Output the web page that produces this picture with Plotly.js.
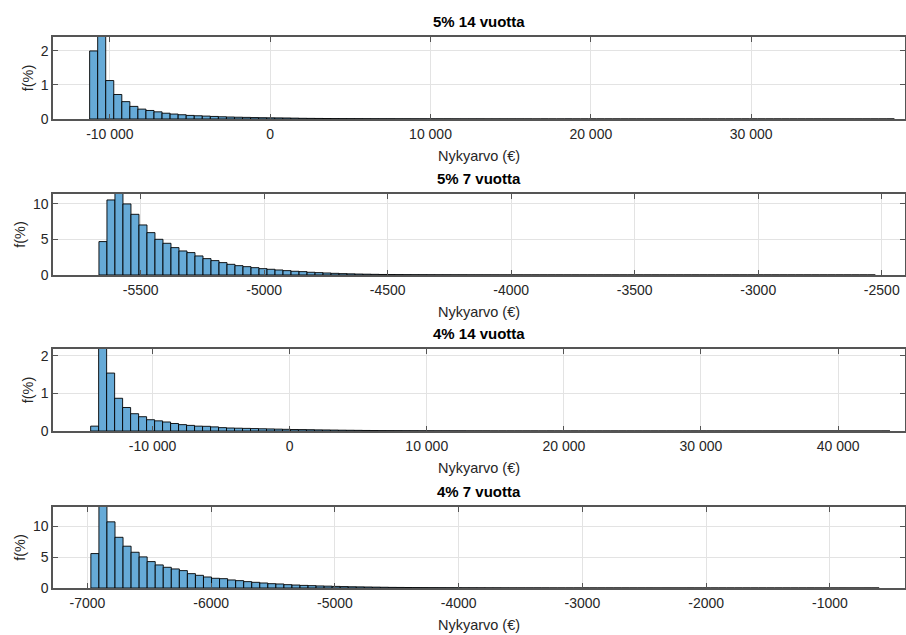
<!DOCTYPE html>
<html><head><meta charset="utf-8">
<script src="https://cdn.plot.ly/plotly-3.0.1.min.js"></script>
<style>html,body{margin:0;padding:0;background:#fff}#chart{width:906px;height:635px}</style>
</head><body><div id="chart"></div>
<script>
// ---------- data ----------
const panelTitles = ["5% 14 vuotta", "5% 7 vuotta", "4% 14 vuotta", "4% 7 vuotta"];
const xLabel = "Nykyarvo (€)";
const yLabel = "f(%)";

// 5% 14 vuotta
const binStart1 = -11265, binWidth1 = 502;
const freq1 = [2.0, 2.6, 1.13, 0.72, 0.51, 0.37, 0.29, 0.25, 0.21, 0.17,
  0.145, 0.125, 0.105, 0.095, 0.085, 0.075, 0.065, 0.058, 0.052, 0.047,
  0.042, 0.038, 0.035, 0.032, 0.03, 0.025, 0.02, 0.018, 0.016, 0.014,
  0.012, 0.011, 0.01, 0.009, 0.008, 0.007, 0.006, 0.006, 0.005, 0.005,
  0.004, 0.004, 0.003, 0.003, 0.003, 0.002, 0.002, 0.002, 0.002, 0.001,
  0.001, 0.001, 0.001, 0.001, 0.001, 0, 0.001, 0, 0, 0.001,
  0, 0, 0, 0, 0, 0, 0, 0, 0, 0,
  0, 0, 0, 0, 0, 0, 0, 0, 0, 0,
  0, 0, 0, 0, 0, 0, 0, 0, 0, 0,
  0, 0, 0, 0, 0, 0, 0, 0, 0, 0.001];

// 5% 7 vuotta
const binStart2 = -5669, binWidth2 = 32.4;
const freq2 = [4.7, 10.56, 11.8, 10.0, 8.54, 7.04, 5.96, 5.02, 4.46, 3.85,
  3.38, 3.15, 2.68, 2.3, 2.02, 1.74, 1.5, 1.31, 1.17, 1.03,
  0.89, 0.8, 0.7, 0.61, 0.52, 0.47, 0.38, 0.33, 0.28, 0.23,
  0.19, 0.16, 0.13, 0.11, 0.09, 0.07, 0.06, 0.05, 0.04, 0.035,
  0.03, 0.025, 0.02, 0.02, 0.015, 0.015, 0.01, 0.01, 0.008, 0.006,
  0.005, 0.004, 0.004, 0.003, 0.003, 0.002, 0.002, 0.002, 0.001, 0.001,
  0.001, 0.001, 0, 0.001, 0, 0, 0.001, 0, 0, 0,
  0, 0, 0, 0, 0, 0, 0, 0, 0, 0,
  0, 0, 0, 0, 0, 0, 0, 0.001, 0.001, 0.001,
  0.001, 0.001, 0.001, 0.001, 0, 0, 0.001];

// 4% 14 vuotta
const binStart3 = -14516, binWidth3 = 583;
const freq3 = [0.13, 2.5, 1.54, 0.87, 0.625, 0.46, 0.38, 0.30, 0.27, 0.24,
  0.20, 0.17, 0.15, 0.13, 0.125, 0.11, 0.09, 0.08, 0.075, 0.07,
  0.065, 0.06, 0.055, 0.05, 0.045, 0.04, 0.038, 0.035, 0.03, 0.028,
  0.025, 0.022, 0.02, 0.018, 0.015, 0.012, 0.01, 0.009, 0.008, 0.007,
  0.006, 0.005, 0.005, 0.004, 0.004, 0.003, 0.003, 0.002, 0.002, 0.002,
  0.001, 0.001, 0.001, 0.001, 0.001, 0.001, 0, 0.001, 0, 0,
  0.001, 0, 0, 0, 0, 0, 0, 0, 0, 0,
  0, 0, 0, 0, 0, 0, 0, 0, 0, 0,
  0, 0, 0, 0, 0, 0, 0, 0, 0, 0,
  0, 0, 0, 0, 0, 0, 0, 0, 0, 0.001];

// 4% 7 vuotta
const binStart4 = -6972, binWidth4 = 65;
const freq4 = [5.57, 13.5, 10.7, 8.2, 6.76, 5.78, 5.03, 4.27, 3.73, 3.35,
  3.08, 2.81, 2.32, 2.05, 1.78, 1.57, 1.51, 1.3, 1.19, 1.03,
  0.92, 0.81, 0.70, 0.65, 0.54, 0.48, 0.42, 0.38, 0.33, 0.30,
  0.26, 0.23, 0.20, 0.18, 0.16, 0.14, 0.12, 0.10, 0.09, 0.08,
  0.07, 0.06, 0.05, 0.045, 0.04, 0.035, 0.03, 0.025, 0.02, 0.018,
  0.015, 0.012, 0.01, 0.009, 0.008, 0.007, 0.006, 0.005, 0.004, 0.004,
  0.003, 0.003, 0.002, 0.002, 0.002, 0.001, 0.001, 0.001, 0.001, 0.001,
  0, 0.001, 0, 0, 0.001, 0, 0, 0, 0, 0,
  0, 0, 0, 0, 0, 0, 0, 0, 0, 0.001,
  0, 0, 0, 0.001, 0, 0, 0.001, 0.001];

const xTickVals1 = [-10000, 0, 10000, 20000, 30000];
const xTickText1 = ["-10 000", "0", "10 000", "20 000", "30 000"];
const xTickVals2 = [-5500, -5000, -4500, -4000, -3500, -3000, -2500];
const xTickText2 = ["-5500", "-5000", "-4500", "-4000", "-3500", "-3000", "-2500"];
const xTickVals3 = [-10000, 0, 10000, 20000, 30000, 40000];
const xTickText3 = ["-10 000", "0", "10 000", "20 000", "30 000", "40 000"];
const xTickVals4 = [-7000, -6000, -5000, -4000, -3000, -2000, -1000];
const xTickText4 = ["-7000", "-6000", "-5000", "-4000", "-3000", "-2000", "-1000"];
const yTickVals1 = [0, 1, 2];
const yTickVals2 = [0, 5, 10];
const yTickVals3 = [0, 1, 2];
const yTickVals4 = [0, 5, 10];

// ---------- layout / styling ----------
const xRanges = [[-13550, 39600], [-5855, -2406], [-17262, 44880], [-7278, -393]];
const yRanges = [[0, 2.41], [0, 11.4], [0, 2.18], [0, 13.1]];
const domains = [[0.8512, 1.0], [0.5681, 0.7151], [0.2849, 0.4338], [0.0, 0.147]];

const panels = [
  {start: binStart1, width: binWidth1, f: freq1, tv: xTickVals1, tt: xTickText1, yv: yTickVals1},
  {start: binStart2, width: binWidth2, f: freq2, tv: xTickVals2, tt: xTickText2, yv: yTickVals2},
  {start: binStart3, width: binWidth3, f: freq3, tv: xTickVals3, tt: xTickText3, yv: yTickVals3},
  {start: binStart4, width: binWidth4, f: freq4, tv: xTickVals4, tt: xTickText4, yv: yTickVals4}
];

const FONT = "Liberation Sans, Arial, Helvetica, sans-serif";
const AXC = "#262626";
const data = [];
const layout = {
  width: 906, height: 635,
  margin: {l: 53, r: 1, t: 37, b: 47},
  paper_bgcolor: "#fff", plot_bgcolor: "#fff",
  showlegend: false, bargap: 0,
  font: {family: FONT, size: 14, color: AXC},
  annotations: []
};

panels.forEach((p, i) => {
  const n = i + 1;
  const xa = n === 1 ? "x" : "x" + n, ya = n === 1 ? "y" : "y" + n;
  data.push({
    type: "bar", xaxis: xa, yaxis: ya,
    x0: p.start + p.width / 2, dx: p.width, y: p.f,
    width: p.width,
    marker: {color: "rgb(102,170,215)", line: {color: "#000", width: 0.9}},
    hoverinfo: "x+y"
  });
  const common = {
    showline: true, linecolor: "#555", linewidth: 1.6, mirror: "ticks",
    ticks: "inside", ticklen: 5, tickwidth: 1, tickcolor: "#555",
    showgrid: true, gridcolor: "#e3e3e3", gridwidth: 1,
    zeroline: false, fixedrange: true,
    tickfont: {family: FONT, size: 14, color: AXC}
  };
  layout["xaxis" + (n === 1 ? "" : n)] = Object.assign({}, common, {
    anchor: ya, domain: [0, 1], range: xRanges[i],
    tickmode: "array", tickvals: p.tv, ticktext: p.tt, ticklabelstandoff: 2,
    title: {text: xLabel, font: {family: FONT, size: 14.5, color: AXC}, standoff: 9}
  });
  layout["yaxis" + (n === 1 ? "" : n)] = Object.assign({}, common, {
    anchor: xa, domain: domains[i], range: yRanges[i],
    tickmode: "array", tickvals: p.yv, ticktext: p.yv.map(String),
    title: {text: yLabel, font: {family: FONT, size: 14.5, color: AXC}, standoff: 4}
  });
  layout.annotations.push({
    text: panelTitles[i], xref: "paper", yref: "paper",
    x: 0.5, y: domains[i][1], xanchor: "center", yanchor: "bottom", yshift: 5,
    showarrow: false, font: {family: FONT, size: 15, color: "#000", weight: "bold"}
  });
});

Plotly.newPlot("chart", data, layout, {staticPlot: true, displayModeBar: false});
</script></body></html>
